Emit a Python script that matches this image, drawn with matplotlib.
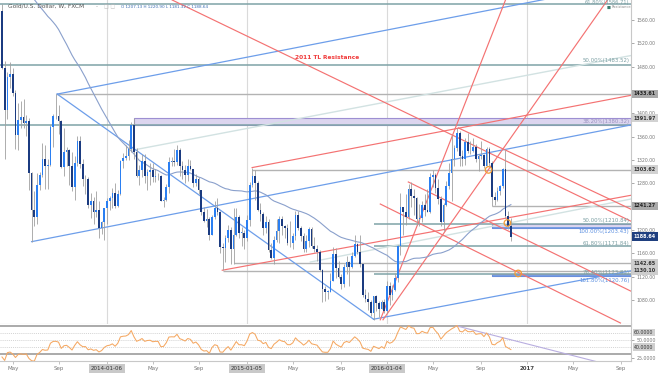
import numpy as np
import pandas as pd
import matplotlib
matplotlib.use("Agg")
import matplotlib.pyplot as plt
from matplotlib.patches import Rectangle
import matplotlib.transforms as mtransforms

plt.rcParams['font.family'] = ['DejaVu Sans']

# ---------------- data (weekly bars, week index 0 = week of 2013-04-08) ----------------
warmup_closes_2012 = [1642, 1642, 1663, 1644, 1578, 1591, 1572, 1622, 1595, 1627, 1572, 1604, 1579,
                      1590, 1584, 1618, 1603, 1621, 1616, 1671, 1691, 1740, 1770, 1774, 1773, 1780,
                      1757, 1724, 1712, 1677, 1731, 1714, 1751, 1713, 1704, 1696, 1657, 1656, 1656,
                      1662, 1687, 1659, 1667, 1667, 1609, 1573, 1576, 1577, 1592, 1606, 1596, 1581]

open_2013 = [1575, 1477, 1405, 1463, 1468, 1434, 1363, 1388, 1393, 1383, 1387, 1297, 1234, 1223, 1277, 1295,
             1322, 1310, 1312, 1376, 1395, 1396, 1387, 1308, 1333, 1337, 1310, 1273, 1315, 1352, 1313, 1287,
             1288, 1243, 1250, 1230, 1235, 1203, 1213]
high_2013 = [1587, 1490, 1470, 1488, 1478, 1440, 1417, 1421, 1424, 1397, 1392, 1300, 1267, 1297, 1300, 1349,
             1345, 1322, 1380, 1398, 1433, 1415, 1388, 1375, 1343, 1338, 1333, 1326, 1361, 1361, 1322, 1294,
             1290, 1264, 1256, 1267, 1249, 1215, 1238]
low_2013 = [1476, 1321, 1390, 1443, 1429, 1339, 1337, 1375, 1375, 1361, 1268, 1180, 1207, 1210, 1268, 1290,
            1271, 1271, 1310, 1342, 1390, 1365, 1307, 1292, 1310, 1277, 1267, 1251, 1310, 1307, 1276, 1262,
            1237, 1221, 1211, 1222, 1186, 1193, 1182]
close_2013 = [1477, 1405, 1463, 1468, 1434, 1363, 1388, 1393, 1383, 1387, 1297, 1234, 1223, 1277, 1295, 1322,
              1310, 1312, 1376, 1395, 1396, 1387, 1308, 1333, 1337, 1310, 1273, 1315, 1352, 1313, 1287, 1288,
              1243, 1250, 1230, 1235, 1203, 1213, 1237]

open_2014 = [1237, 1250, 1254, 1264, 1241, 1262, 1318, 1324, 1326, 1339, 1380, 1334, 1293, 1303, 1318, 1293,
             1300, 1302, 1290, 1293, 1292, 1250, 1252, 1274, 1316, 1318, 1317, 1337, 1310, 1303, 1294, 1310,
             1305, 1280, 1287, 1268, 1231, 1216, 1218, 1192, 1222, 1238, 1231, 1171, 1169, 1186, 1200, 1167,
             1192, 1222, 1195, 1195]
high_2014 = [1255, 1259, 1272, 1280, 1268, 1320, 1332, 1345, 1355, 1385, 1392, 1340, 1311, 1331, 1331, 1305,
             1315, 1315, 1305, 1297, 1295, 1256, 1279, 1325, 1325, 1338, 1346, 1340, 1318, 1311, 1322, 1320,
             1305, 1296, 1290, 1269, 1240, 1236, 1222, 1226, 1249, 1255, 1233, 1178, 1192, 1208, 1205, 1238,
             1238, 1225, 1205, 1200]
low_2014 = [1211, 1235, 1238, 1238, 1240, 1260, 1307, 1320, 1320, 1334, 1321, 1291, 1277, 1291, 1280, 1268,
            1277, 1282, 1283, 1285, 1249, 1240, 1249, 1263, 1309, 1310, 1312, 1292, 1287, 1280, 1284, 1302,
            1273, 1276, 1261, 1225, 1214, 1205, 1183, 1191, 1219, 1226, 1161, 1132, 1145, 1180, 1142, 1142,
            1190, 1186, 1172, 1167]
close_2014 = [1250, 1254, 1264, 1241, 1262, 1318, 1324, 1326, 1339, 1380, 1334, 1293, 1303, 1318, 1293, 1300,
              1302, 1290, 1293, 1292, 1250, 1252, 1274, 1316, 1318, 1317, 1337, 1310, 1303, 1294, 1310, 1305,
              1280, 1287, 1268, 1231, 1216, 1218, 1192, 1222, 1238, 1231, 1171, 1169, 1186, 1200, 1167, 1192,
              1222, 1195, 1195, 1187]

open_2015 = [1187, 1217, 1277, 1292, 1280, 1234, 1228, 1204, 1213, 1165, 1152, 1183, 1199, 1219, 1207, 1203,
             1178, 1177, 1189, 1225, 1204, 1189, 1168, 1181, 1201, 1173, 1167, 1162, 1131, 1098, 1094, 1094,
             1113, 1159, 1134, 1120, 1108, 1137, 1145, 1137, 1156, 1176, 1162, 1141, 1088, 1081, 1076, 1057,
             1086, 1075, 1065, 1076]
high_2015 = [1226, 1282, 1307, 1302, 1284, 1246, 1231, 1224, 1219, 1177, 1190, 1219, 1224, 1224, 1209, 1210,
             1215, 1194, 1232, 1232, 1207, 1194, 1192, 1205, 1205, 1188, 1175, 1165, 1133, 1104, 1097, 1126,
             1170, 1169, 1147, 1124, 1142, 1156, 1146, 1163, 1191, 1178, 1191, 1141, 1098, 1093, 1080, 1086,
             1088, 1079, 1080, 1082]
low_2015 = [1181, 1207, 1273, 1251, 1232, 1216, 1191, 1194, 1163, 1150, 1142, 1180, 1178, 1191, 1187, 1174,
            1170, 1168, 1183, 1200, 1181, 1162, 1162, 1170, 1169, 1162, 1146, 1130, 1077, 1079, 1081, 1093,
            1112, 1118, 1117, 1098, 1103, 1124, 1104, 1135, 1154, 1159, 1137, 1085, 1077, 1062, 1052, 1046,
            1061, 1050, 1064, 1058]
close_2015 = [1217, 1277, 1292, 1280, 1234, 1228, 1204, 1213, 1165, 1152, 1183, 1199, 1219, 1207, 1203, 1178,
              1177, 1189, 1225, 1204, 1189, 1168, 1181, 1201, 1173, 1167, 1162, 1131, 1098, 1094, 1094, 1113,
              1159, 1134, 1120, 1108, 1137, 1145, 1137, 1156, 1176, 1162, 1141, 1088, 1081, 1076, 1057, 1086,
              1075, 1065, 1076, 1061]

open_2016 = [1061, 1104, 1089, 1097, 1118, 1173, 1239, 1230, 1222, 1271, 1259, 1255, 1218, 1220, 1243, 1235,
             1231, 1290, 1294, 1272, 1253, 1214, 1243, 1276, 1298, 1321, 1340, 1366, 1327, 1322, 1350, 1336,
             1335, 1342, 1321, 1326, 1328, 1310, 1339, 1315, 1256, 1251, 1267, 1276, 1304, 1224, 1207.13]
high_2016 = [1112, 1110, 1106, 1127, 1174, 1263, 1240, 1261, 1279, 1283, 1271, 1256, 1244, 1250, 1262, 1271,
             1297, 1303, 1297, 1287, 1259, 1247, 1284, 1315, 1363, 1345, 1375, 1370, 1337, 1357, 1367, 1353,
             1357, 1347, 1330, 1352, 1330, 1343, 1343, 1318, 1265, 1274, 1277, 1306, 1337, 1233, 1220.90]
low_2016 = [1058, 1071, 1080, 1096, 1110, 1157, 1191, 1208, 1218, 1240, 1226, 1208, 1207, 1214, 1224, 1230,
            1229, 1273, 1263, 1245, 1207, 1199, 1241, 1270, 1250, 1310, 1335, 1310, 1310, 1312, 1332, 1330,
            1334, 1316, 1301, 1322, 1306, 1309, 1310, 1241, 1242, 1250, 1260, 1272, 1220, 1201, 1181.32]
close_2016 = [1104, 1089, 1097, 1118, 1173, 1239, 1230, 1222, 1271, 1259, 1255, 1218, 1220, 1243, 1235, 1231,
              1290, 1294, 1272, 1253, 1214, 1243, 1276, 1298, 1321, 1340, 1366, 1327, 1322, 1350, 1336, 1335,
              1342, 1321, 1326, 1328, 1310, 1339, 1315, 1256, 1251, 1267, 1276, 1304, 1224, 1207, 1188.64]

# x-axis labels (week index of first weekly bar of the month)
tick_weeks = [4, 21, 39, 56, 73, 91, 108, 126, 143, 160, 178, 195, 212, 230]
tick_labels = ["May", "Sep", "2014-01-06", "May", "Sep", "2015-01-05", "May", "Sep",
               "2016-01-04", "May", "Sep", "2017", "May", "Sep"]
year_weeks = [39, 91, 143, 195]

# price-axis labels (those hidden behind level boxes are left out)
price_ticks = [1080, 1120, 1160, 1200, 1280, 1320, 1360, 1400, 1480, 1520, 1560]

# horizontal levels
fib_full_levels = [1586.71, 1483.52, 1380.32]
fib_recent_levels = [1210.84, 1171.84, 1123.83]
fib_recent_start = 138
ext_levels = [1203.43, 1120.76]
ext_start = 182
gray_levels = [1433.61, 1303.62, 1241.27, 1142.65, 1130.10]
gray_starts = [20, 93, 182, 86, 82]
zones = [(49, 1380.32, 1391.97), (182, 1203.43, 1210.84), (182, 1120.76, 1123.83)]

# trend lines: (week0, price0, week1, price1)
blue_lines = [(11, 1180, 233.5, 1380), (20.5, 1433, 233.5, 1624),
              (20.5, 1433, 138, 1047), (138, 1047, 233.5, 1130)]
pale_lines = [(48.7, 1337, 233.5, 1499), (114.5, 1145, 233.5, 1253)]
red_lines = [(63.2, 1594.3, 234.2, 1213.7),
             (92.9, 1307, 234.2, 1431.4),
             (81.8, 1131, 234.2, 1260),
             (169.5, 1375, 234.2, 1234.3),
             (150.9, 1282.3, 234.2, 1093.7),
             (140.5, 1244.5, 229.7, 1040.5),
             (140.5, 1046, 187, 1594.3),
             (141.5, 1046, 224.9, 1594.3)]
circle_weeks = [180.7, 187.7, 191.7]
circle_prices = [1303, 1212, 1125.5]
rsi_trend = (169, 69.3, 222.3, 18.2)
tl_label = (109, 1496, "2011 TL Resistance")

# ---------------- derived series ----------------
opens = np.array(open_2013 + open_2014 + open_2015 + open_2016, float)
highs = np.array(high_2013 + high_2014 + high_2015 + high_2016, float)
lows = np.array(low_2013 + low_2014 + low_2015 + low_2016, float)
closes = np.array(close_2013 + close_2014 + close_2015 + close_2016, float)
n_bars = len(closes)
idx = np.arange(n_bars)

allc = np.array(list(warmup_closes_2012) + closes.tolist(), float)
sma52 = pd.Series(allc).rolling(52).mean().to_numpy()[-n_bars:]

delta = np.diff(allc)
gain = np.clip(delta, 0, None)
loss = np.clip(-delta, 0, None)
N = 14
ag = gain[:N].mean()
al = loss[:N].mean()
rsi_all = np.full(len(allc), np.nan)
for k in range(N, len(delta)):
    ag = (ag * (N - 1) + gain[k]) / N
    al = (al * (N - 1) + loss[k]) / N
    rsi_all[k + 1] = 100 - 100 / (1 + ag / al) if al > 0 else 100
rsi = rsi_all[-n_bars:]

# ---------------- figure ----------------
W, H = 658, 373
fig = plt.figure(figsize=(W / 100, H / 100), dpi=100)
fig.patch.set_facecolor("white")


def frac(l, t, w, h):
    return [l / W, 1 - (t + h) / H, w / W, h / H]


ax = fig.add_axes(frac(0, 0, 630.7, 324))
rx = fig.add_axes(frac(0, 324, 630.7, 37), sharex=ax)

XL, XR = -0.74, 233.5
ax.set_xlim(XL, XR)
ax.set_ylim(1038.8, 1594.3)
rx.set_ylim(20.5, 72.1)

for a in (ax, rx):
    a.set_facecolor("white")
    a.spines["left"].set_visible(False)
    a.spines["top"].set_visible(False)
    a.spines["right"].set_color("#c8c8c8")
    a.spines["bottom"].set_color("#c8c8c8")
    a.spines["right"].set_linewidth(0.8)
    a.spines["bottom"].set_linewidth(0.8)

for xw in year_weeks:
    ax.axvline(xw, color="#dadada", lw=0.8, zorder=0)

teal = "#7ea3a7"
grayl = "#b3b3b3"
bluel = "#6d9eea"
redl = "#f47272"
purple_face = "#dcd5ef"
purple_edge = "#9d8fd2"

# zones
for (x0, lo, hi) in zones:
    ax.add_patch(Rectangle((x0, lo), XR - x0, hi - lo, facecolor=purple_face,
                           edgecolor=purple_edge, lw=0.8, zorder=1.2))

# horizontal levels
for lv in fib_full_levels:
    ax.hlines(lv, XL, XR, color=teal, lw=1.1, zorder=1.3)
for lv in fib_recent_levels:
    ax.hlines(lv, fib_recent_start, XR, color=teal, lw=1.1, zorder=1.3)
for lv in ext_levels:
    ax.hlines(lv, ext_start, XR, color="#5b8fe0", lw=1.1, zorder=1.3)
for lv, st in zip(gray_levels, gray_starts):
    ax.hlines(lv, st, XR, color=grayl, lw=1.0, zorder=1.3)

# trend lines
for (x0, y0, x1, y1) in pale_lines:
    ax.plot([x0, x1], [y0, y1], color="#d2e2e2", lw=1.0, zorder=1.4)
for (x0, y0, x1, y1) in blue_lines:
    ax.plot([x0, x1], [y0, y1], color=bluel, lw=0.9, zorder=1.5)
for (x0, y0, x1, y1) in red_lines:
    ax.plot([x0, x1], [y0, y1], color=redl, lw=0.85, zorder=1.5)

# moving average
ax.plot(idx, sma52, color="#8aa0cc", lw=0.8, zorder=1.8)

# candles
up = closes >= opens
ax.vlines(idx, lows, highs, color="#a0a0a0", lw=0.6, zorder=2)
bb = np.minimum(opens, closes)
bh = np.maximum(np.abs(closes - opens), 1.0)
ax.bar(idx[up], bh[up], bottom=bb[up], width=0.62, color="#2a7ff2", lw=0, zorder=2.2)
ax.bar(idx[~up], bh[~up], bottom=bb[~up], width=0.62, color="#1b3b80", lw=0, zorder=2.2)

# circles
ax.scatter(circle_weeks, circle_prices, s=22, facecolors="none", edgecolors="#f39c34",
           linewidths=0.9, zorder=4)

# 2011 TL label
ax.text(tl_label[0], tl_label[1], tl_label[2], color="#f03a3a", fontsize=4.2,
        fontweight="bold", ha="left", va="center", zorder=5)

# fib labels (right side)
xr_lab = 233.0
lab_col = "#7a9ea2"
ax.text(xr_lab, 1590.0, "61.80%(1586.71)", ha="right", va="center", fontsize=3.7, color=lab_col, zorder=5)
ax.text(xr_lab, 1485.5, "50.00%(1483.52)", ha="right", va="bottom", fontsize=3.9, color=lab_col, zorder=5)
ax.text(xr_lab, 1386.2, "38.20%(1380.32)", ha="right", va="center", fontsize=3.9, color="#9a93bf", zorder=5)
ax.text(xr_lab, 1215.5, "50.00%(1210.84)", ha="right", va="center", fontsize=3.9, color=lab_col, zorder=5)
ax.text(xr_lab, 1197.5, "100.00%(1203.43)", ha="right", va="center", fontsize=3.9, color="#5b8fe0", zorder=5)
ax.text(xr_lab, 1177.0, "61.80%(1171.84)", ha="right", va="center", fontsize=3.9, color=lab_col, zorder=5)
ax.text(xr_lab, 1127.8, "76.40%(1123.83)", ha="right", va="center", fontsize=3.9, color=lab_col, zorder=5)
ax.text(xr_lab, 1114.0, "161.80%(1120.76)", ha="right", va="center", fontsize=3.9, color="#5b8fe0", zorder=5)

# price axis
ax.yaxis.tick_right()
ax.set_yticks(price_ticks)
ax.set_yticklabels(["%.2f" % p for p in price_ticks])
ax.tick_params(axis="y", labelsize=3.3, colors="#888888", length=2, width=0.5, pad=2, labelcolor="#777777")
ax.tick_params(axis="x", bottom=False, labelbottom=False)

tr = mtransforms.blended_transform_factory(ax.transAxes, ax.transData)
box_levels = [(1433.61, "#a9a9a9", "#222222"), (1391.97, "#d2d2d2", "#333333"),
              (1303.62, "#d2d2d2", "#333333"), (1241.27, "#a9a9a9", "#222222"),
              (1188.64, "#1f3f7f", "white"), (1142.65, "#cdcdcd", "#333333"),
              (1130.10, "#cdcdcd", "#333333")]
for lv, fc, tc in box_levels:
    ax.text(1.005, lv, "%.2f" % lv, transform=tr, ha="left", va="center", fontsize=3.5,
            color=tc, fontweight="bold", clip_on=False, zorder=10,
            bbox=dict(boxstyle="square,pad=0.35", fc=fc, ec="none"))

# RSI panel
rx.plot(idx, rsi, color="#f5a862", lw=0.75, zorder=3)
rx.axhline(70, color="#9c9c9c", lw=1.2, zorder=1)
rx.axhline(30, color="#9c9c9c", lw=1.2, zorder=1)
for lv in (60, 50, 40):
    rx.axhline(lv, color="#c4c4c4", lw=0.5, ls=(0, (1.5, 1.5)), zorder=1)
rx.plot([rsi_trend[0], rsi_trend[2]], [rsi_trend[1], rsi_trend[3]], color="#b9aee0", lw=0.8, zorder=2)

rx.yaxis.tick_right()
rx.set_yticks([25, 50])
rx.set_yticklabels(["25.0000", "50.0000"])
rx.tick_params(axis="y", labelsize=3.4, colors="#888888", length=2, width=0.5, pad=2, labelcolor="#777777")
trr = mtransforms.blended_transform_factory(rx.transAxes, rx.transData)
for lv in (60, 40):
    rx.text(1.005, lv, "%.4f" % lv, transform=trr, ha="left", va="center", fontsize=3.4,
            color="#333333", clip_on=False, zorder=10,
            bbox=dict(boxstyle="square,pad=0.25", fc="#cfcfcf", ec="none"))

rx.set_xticks(tick_weeks)
rx.tick_params(axis="x", labelbottom=False, length=2, width=0.5, colors="#aaaaaa")
trx = mtransforms.blended_transform_factory(rx.transData, fig.transFigure)
for xw, lab in zip(tick_weeks, tick_labels):
    if "-" in lab:
        rx.text(xw, 1 - 368.5 / H, lab, transform=trx, ha="center", va="center", fontsize=4.0,
                color="#333333", clip_on=False,
                bbox=dict(boxstyle="square,pad=0.3", fc="#c9c9c9", ec="none"))
    elif lab == "2017":
        rx.text(xw, 1 - 368.5 / H, lab, transform=trx, ha="center", va="center", fontsize=4.0,
                color="#444444", fontweight="bold", clip_on=False)
    else:
        rx.text(xw, 1 - 368.5 / H, lab, transform=trx, ha="center", va="center", fontsize=4.0,
                color="#777777", clip_on=False)

# header
fig.text(8 / W, 1 - 6.5 / H, "Gold/U.S. Dollar, W, FXCM", fontsize=4.2, color="#555555",
         ha="left", va="center")
fig.text(96 / W, 1 - 6.5 / H, "-", fontsize=4.0, color="#999999", ha="left", va="center")
fig.text(104 / W, 1 - 6.5 / H, "\u25a1 \u25a1", fontsize=3.6, color="#bbbbbb", ha="left", va="center")
ohlc = "O %.2f H %.2f L %.2f C %.2f" % (opens[-1], highs[-1], lows[-1], closes[-1])
fig.text(121 / W, 1 - 6.5 / H, ohlc, fontsize=3.0, color="#3b6db3", ha="left", va="center")
fig.text(609 / W, 1 - 7.5 / H, "\u25a0", fontsize=3.0, color="#3f7d70", ha="center", va="center")
fig.text(612 / W, 1 - 7.5 / H, "Resistance", fontsize=2.6, color="#8a8a8a", ha="left", va="center")

fig.savefig("out.png", dpi=100, facecolor="white")
